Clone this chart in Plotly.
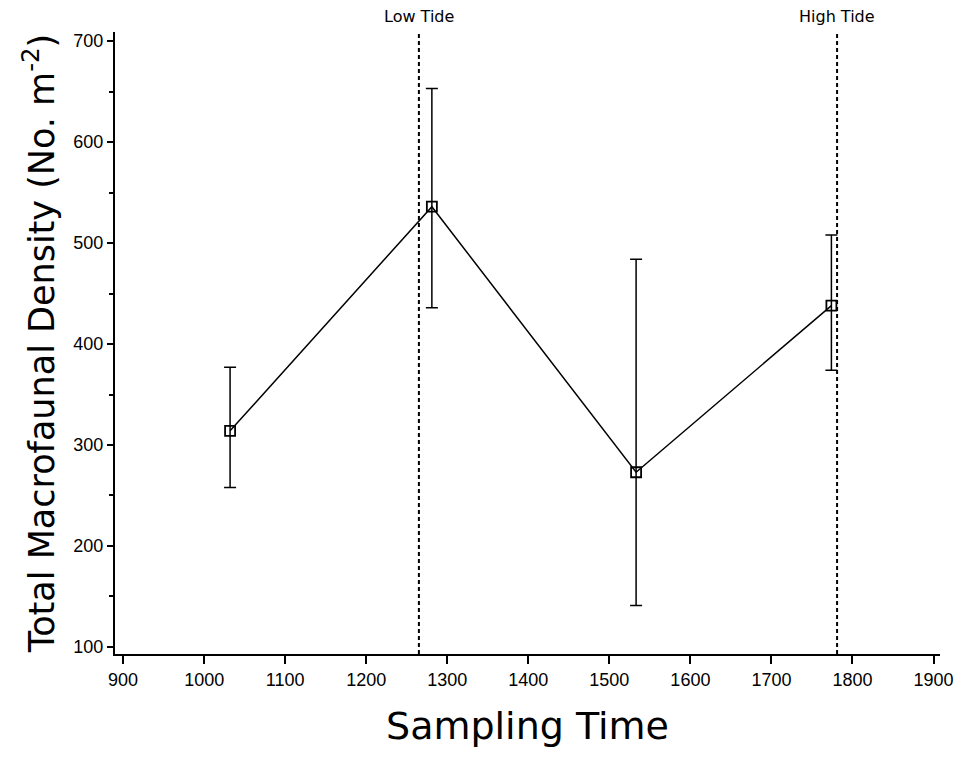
import plotly.graph_objects as go

# Sampling times and macrofaunal density (mean with asymmetric error bounds)
sampling_time = [1032, 1281, 1533, 1774]
density = [314, 536, 273, 438]
upper = [377, 653, 484, 508]
lower = [258, 436, 141, 374]

# Tide markers
tide_times = [1265, 1781]
tide_labels = ["Low Tide", "High Tide"]

x_ticks = list(range(900, 2000, 100))
y_ticks = list(range(100, 800, 100))

err_plus = [u - d for u, d in zip(upper, density)]
err_minus = [d - l for d, l in zip(density, lower)]

fig = go.Figure()
fig.add_trace(go.Scatter(
    x=sampling_time, y=density, mode="lines+markers",
    line=dict(color="black", width=1.5),
    marker=dict(symbol="square-open", size=10, color="black",
                line=dict(width=1.8, color="black")),
    error_y=dict(type="data", symmetric=False, array=err_plus, arrayminus=err_minus,
                 color="black", thickness=1.5, width=6),
    showlegend=False,
))

for t, lab in zip(tide_times, tide_labels):
    fig.add_shape(type="line", xref="x", yref="paper", x0=t, x1=t, y0=0, y1=0.998,
                  line=dict(color="black", width=2, dash="4px,3px"))
    fig.add_annotation(x=t, y=1.0, xref="x", yref="paper", yanchor="bottom",
                       yshift=4, text=lab, showarrow=False,
                       font=dict(family="DejaVu Sans", size=16, color="black"))

fig.update_layout(
    width=966, height=774,
    margin=dict(l=115, r=26, t=32, b=120),
    paper_bgcolor="white", plot_bgcolor="white",
    font=dict(family="Liberation Sans", color="black"),
)
fig.update_xaxes(
    range=[890, 1908], tickvals=x_ticks, ticks="outside", ticklen=8, tickwidth=2,
    tickcolor="black", showline=True, linecolor="black", linewidth=2,
    showgrid=False, zeroline=False,
    tickfont=dict(family="Liberation Sans", size=18, color="black"),
    title=dict(text="Sampling Time", standoff=24,
               font=dict(family="DejaVu Sans", size=38, color="black")),
)
fig.update_yaxes(
    range=[93, 709], tickvals=y_ticks, ticks="outside", ticklen=6, tickwidth=2,
    tickcolor="black", showline=True, linecolor="black", linewidth=2,
    showgrid=False, zeroline=False,
    minor=dict(tickvals=[150, 250, 350, 450, 550, 650], ticks="outside",
               ticklen=4, tickwidth=1.5, tickcolor="black"),
    tickfont=dict(family="Liberation Sans", size=18, color="black"),
    title=dict(text="Total Macrofaunal Density (No. m<sup>-2</sup>)", standoff=8,
               font=dict(family="DejaVu Sans", size=35, color="black")),
)

fig.write_html("out.html")
